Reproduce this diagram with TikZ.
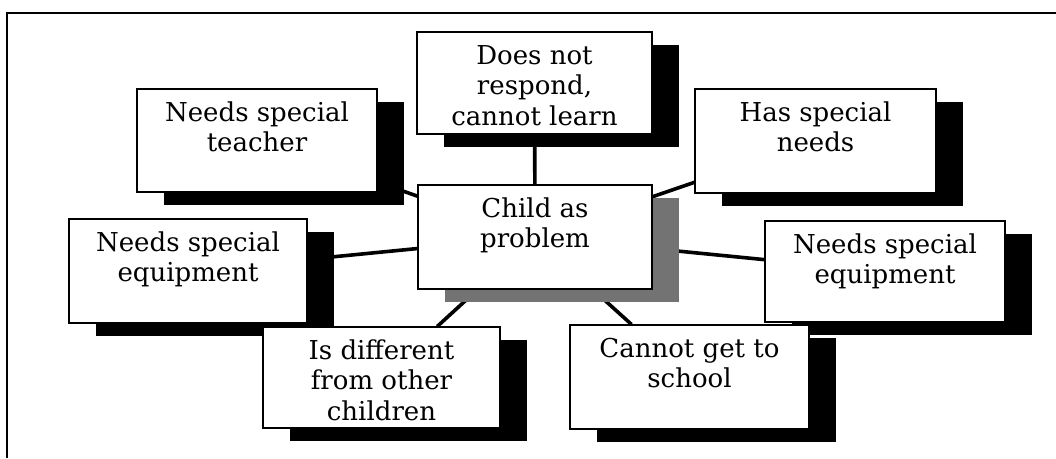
\documentclass[tikz,border=0pt]{standalone}
\usepackage{fontspec}
\setmainfont{DejaVu Serif}
\usetikzlibrary{shadows,backgrounds}

% text block of a card: fixed size, lines set from the top
\newcommand\cardtext[3]{%
  \parbox[c][#2pt][t]{#1pt}{\centering\fontsize{26}{30.5}\selectfont
    \rule{0pt}{32pt}#3}}

\tikzset{
  card/.style={draw=black, line width=1.2pt, fill=white, inner sep=0pt,
    drop shadow={shadow xshift=27pt, shadow yshift=-12.5pt,
                 fill=#1, opacity=1}},
  card/.default=black,
  spoke/.style={draw=black, line width=3.6pt},
  frameline/.style={draw=black, line width=1.3pt}
}

\begin{document}
\begin{tikzpicture}[x=1pt, y=-1pt]
  \useasboundingbox (0,0) rectangle (1056,458);

  % outer frame
  \draw[frameline] (7,458) -- (7,13) -- (1056,13);

  % centre card
  \node[card=black!55] (hub) at (535,237)
    {\cardtext{234}{104}{Child as\\problem}};

  % surrounding cards
  \node[card] (respond) at (534.5,83)
    {\cardtext{235}{102}{Does not\\respond,\\cannot learn}};
  \node[card] (teacher) at (257,140.5)
    {\cardtext{240}{103}{Needs special\\teacher}};
  \node[card] (needs) at (815.5,141)
    {\cardtext{241}{104}{Has special\\needs}};
  \node[card] (equipL) at (188,271)
    {\cardtext{238}{104}{Needs special\\equipment}};
  \node[card] (equipR) at (885,271.5)
    {\cardtext{240}{101}{Needs special\\equipment}};
  \node[card] (different) at (381.5,377.5)
    {\cardtext{237}{101}{Is different\\from other\\children}};
  \node[card] (school) at (689.5,377)
    {\cardtext{239}{104}{Cannot get to\\school}};

  % spokes from the centre, behind the cards
  \begin{pgfonlayer}{background}
    \draw[spoke] (hub) -- (respond);
    \draw[spoke] (hub) -- (teacher);
    \draw[spoke] (hub) -- (needs);
    \draw[spoke] (hub) -- (equipL);
    \draw[spoke] (hub) -- (equipR);
    \draw[spoke] (hub) -- (different);
    \draw[spoke] (hub) -- (school);
  \end{pgfonlayer}
\end{tikzpicture}
\end{document}
